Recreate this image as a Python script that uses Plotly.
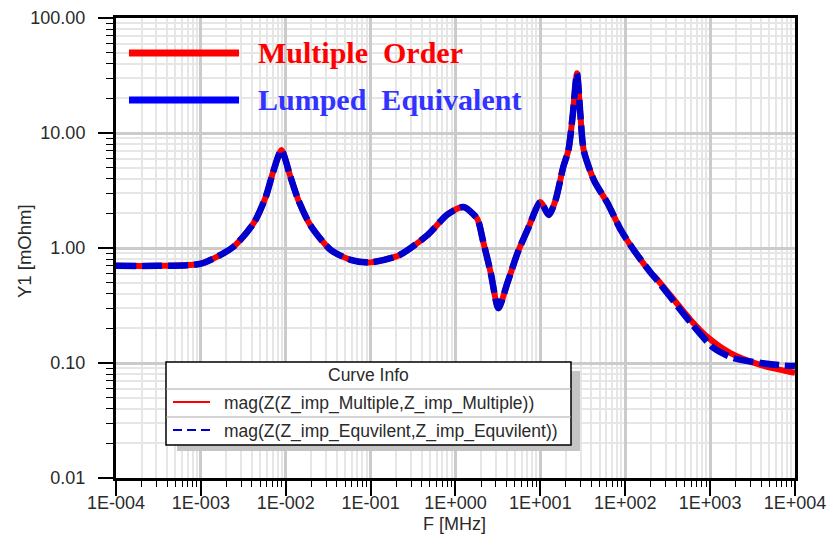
import plotly.graph_objects as go

# ---------------- data ----------------
freq_mhz = [1e-4, 3.2e-4, 1e-3, 2.4e-3, 4.2e-3, 5.8e-3, 7.1e-3, 8.9e-3, 1.12e-2, 1.41e-2,
            1.95e-2, 3.4e-2, 5.8e-2, 0.1, 0.22, 0.47, 0.8, 1.24, 1.8, 2.1, 2.6, 3.2,
            4.1, 5.4, 7.2, 10.0, 12.6, 15.1, 18.6, 21.4, 24.0, 27.0, 29.5, 32.4,
            42.7, 61.7, 89.0, 126.0, 200.0, 240.0, 589.0, 933.0, 1740.0, 3980.0, 10000.0]

z_multiple = [0.70, 0.70, 0.73, 1.02, 1.65, 2.77, 4.58, 7.1, 4.3, 2.6,
              1.58, 0.96, 0.79, 0.75, 0.87, 1.30, 1.95, 2.27, 1.80, 1.17, 0.61, 0.30,
              0.50, 0.91, 1.49, 2.51, 1.94, 2.61, 5.06, 7.1, 14.0, 33.0, 15.0, 7.1,
              3.9, 2.46, 1.43, 0.96, 0.61, 0.53, 0.237, 0.168, 0.122, 0.096, 0.082]

freq_eq = [1e-4, 3.2e-4, 1e-3, 2.4e-3, 4.2e-3, 5.8e-3, 7.1e-3, 8.9e-3, 1.12e-2, 1.41e-2,
           1.95e-2, 3.4e-2, 5.8e-2, 0.1, 0.22, 0.47, 0.8, 1.24, 1.8, 2.1, 2.6, 3.2,
           4.1, 5.4, 7.2, 10.0, 12.6, 15.1, 18.6, 21.4, 24.0, 27.0, 29.5, 32.4,
           42.7, 61.7, 89.0, 126.0, 200.0, 240.0, 589.0, 1100.0, 1900.0, 3980.0, 7400.0, 10000.0]

z_equivalent = [0.70, 0.70, 0.73, 1.02, 1.65, 2.77, 4.58, 7.1, 4.3, 2.6,
                1.58, 0.96, 0.79, 0.75, 0.87, 1.30, 1.95, 2.27, 1.80, 1.17, 0.61, 0.30,
                0.50, 0.91, 1.49, 2.51, 1.94, 2.61, 5.06, 7.1, 14.0, 33.0, 15.0, 7.1,
                3.9, 2.46, 1.43, 0.96, 0.61, 0.52, 0.225, 0.135, 0.110, 0.100, 0.095, 0.094]

x_tick_vals = [1e-4, 1e-3, 1e-2, 1e-1, 1e0, 1e1, 1e2, 1e3, 1e4]
x_tick_text = ["1E-004", "1E-003", "1E-002", "1E-001", "1E+000", "1E+001", "1E+002", "1E+003", "1E+004"]
y_tick_vals = [0.01, 0.1, 1, 10, 100]
y_tick_text = ["0.01", "0.10", "1.00", "10.00", "100.00"]

trace_names = ["mag(Z(Z_imp_Multiple,Z_imp_Multiple))", "mag(Z(Z_imp_Equvilent,Z_imp_Equvilent))"]
big_labels = ["Multiple Order", "Lumped Equivalent"]

# ---------------- layout helpers ----------------
W, H = 826, 537
L, R, T, B = 116, 31, 18, 59
PW, PH = W - L - R, H - T - B


def px(x):
    return (x - L) / PW


def py(y):
    return (H - B - y) / PH


minor_x = [m * 10.0 ** e for e in range(-4, 4) for m in range(2, 10)]
minor_y = [m * 10.0 ** e for e in range(-2, 2) for m in range(2, 10)]

fig = go.Figure()
fig.add_trace(go.Scatter(x=freq_mhz, y=z_multiple, mode="lines", name=trace_names[0],
                         line=dict(color="#FF0000", width=6, shape="spline", smoothing=0.7),
                         showlegend=False, hoverinfo="skip"))
fig.add_trace(go.Scatter(x=freq_eq, y=z_equivalent, mode="lines", name=trace_names[1],
                         line=dict(color="#0000CC", width=6.5, dash="20px,6px", shape="spline", smoothing=0.7),
                         showlegend=False, hoverinfo="skip"))

tickfont = dict(family="Liberation Sans, Arial, sans-serif", size=18, color="#2a2a2a")
fig.update_xaxes(type="log", range=[-4, 4.0002], tickmode="array", tickvals=x_tick_vals, ticktext=x_tick_text,
                 automargin=False, ticklabeloverflow="allow",
                 showline=True, linecolor="black", linewidth=3, mirror=True,
                 ticks="outside", ticklen=15, tickwidth=1.5, tickcolor="black",
                 showgrid=True, gridcolor="#cbcbcb", gridwidth=2.5, zeroline=False,
                 tickfont=tickfont, ticklabelstandoff=-9,
                 minor=dict(tickmode="array", tickvals=minor_x, showgrid=True, gridcolor="#e6e6e6",
                            gridwidth=1.5, ticks="outside", ticklen=6, tickcolor="black", tickwidth=1.2))
fig.update_yaxes(type="log", range=[-2, 2], tickmode="array", tickvals=y_tick_vals, ticktext=y_tick_text,
                 automargin=False,
                 showline=True, linecolor="black", linewidth=3, mirror=True,
                 ticks="outside", ticklen=15, tickwidth=1.5, tickcolor="black",
                 showgrid=True, gridcolor="#cbcbcb", gridwidth=2.5, zeroline=False,
                 tickfont=tickfont, ticklabelstandoff=9,
                 minor=dict(tickmode="array", tickvals=minor_y, showgrid=True, gridcolor="#e6e6e6",
                            gridwidth=1.5, ticks="outside", ticklen=7, tickcolor="black", tickwidth=1.2))

shapes = []
annotations = []

# big in-plot labels
shapes.append(dict(type="line", xref="paper", yref="paper", x0=px(129), x1=px(239), y0=py(53), y1=py(53),
                   line=dict(color="#FF0000", width=7), layer="above"))
shapes.append(dict(type="line", xref="paper", yref="paper", x0=px(129), x1=px(239), y0=py(100), y1=py(100),
                   line=dict(color="#0000FF", width=7), layer="above"))
annotations.append(dict(xref="paper", yref="paper", x=px(256), y=py(52), xanchor="left", yanchor="middle",
                        text="<b>" + big_labels[0].replace(" ", "&nbsp;&nbsp;") + "</b>", showarrow=False,
                        font=dict(family="Liberation Serif, Times New Roman, serif", size=30, color="#FF0000")))
annotations.append(dict(xref="paper", yref="paper", x=px(256), y=py(100), xanchor="left", yanchor="middle",
                        text="<b>" + big_labels[1].replace(" ", "&nbsp;&nbsp;") + "</b>", showarrow=False,
                        font=dict(family="Liberation Serif, Times New Roman, serif", size=30, color="#3333FF")))

# Curve Info box
shapes.append(dict(type="rect", xref="paper", yref="paper", x0=px(177), x1=px(580), y0=py(451), y1=py(371),
                   fillcolor="#c4c4c4", line=dict(width=0), layer="above"))
shapes.append(dict(type="rect", xref="paper", yref="paper", x0=px(166), x1=px(571), y0=py(445), y1=py(362),
                   fillcolor="white", line=dict(color="black", width=1.5), layer="above"))
for yy in (389, 417):
    shapes.append(dict(type="line", xref="paper", yref="paper", x0=px(166), x1=px(571), y0=py(yy), y1=py(yy),
                       line=dict(color="#a8a8a8", width=1), layer="above"))
shapes.append(dict(type="line", xref="paper", yref="paper", x0=px(173), x1=px(210), y0=py(402), y1=py(402),
                   line=dict(color="#FF0000", width=2.2), layer="above"))
shapes.append(dict(type="line", xref="paper", yref="paper", x0=px(173), x1=px(210), y0=py(430), y1=py(430),
                   line=dict(color="#0000CC", width=2.2, dash="9px,5px"), layer="above"))
legfont = dict(family="Liberation Sans, Arial, sans-serif", size=17.5, color="#2a2a2a")
annotations.append(dict(xref="paper", yref="paper", x=px(368), y=py(375), xanchor="center", yanchor="middle",
                        text="Curve Info", showarrow=False, font=legfont))
annotations.append(dict(xref="paper", yref="paper", x=px(222), y=py(403), xanchor="left", yanchor="middle",
                        text=trace_names[0], showarrow=False, font=legfont))
annotations.append(dict(xref="paper", yref="paper", x=px(222), y=py(431), xanchor="left", yanchor="middle",
                        text=trace_names[1], showarrow=False, font=legfont))

# axis titles
annotations.append(dict(xref="paper", yref="paper", x=px(24), y=py(251), xanchor="center", yanchor="middle",
                        text="Y1 [mOhm]", textangle=-90, showarrow=False,
                        font=dict(family="Liberation Sans, Arial, sans-serif", size=18.5, color="#2a2a2a")))
annotations.append(dict(xref="paper", yref="paper", x=px(454), y=py(524), xanchor="center", yanchor="middle",
                        text="F [MHz]", showarrow=False,
                        font=dict(family="Liberation Sans, Arial, sans-serif", size=18, color="#2a2a2a")))

fig.update_layout(width=W, height=H, margin=dict(l=L, r=R, t=T, b=B, pad=0),
                  paper_bgcolor="white", plot_bgcolor="white", hovermode=False,
                  shapes=shapes, annotations=annotations, showlegend=False)

fig.write_html("out.html", config={"displayModeBar": False},
               post_script="document.body.style.margin='0px';")
